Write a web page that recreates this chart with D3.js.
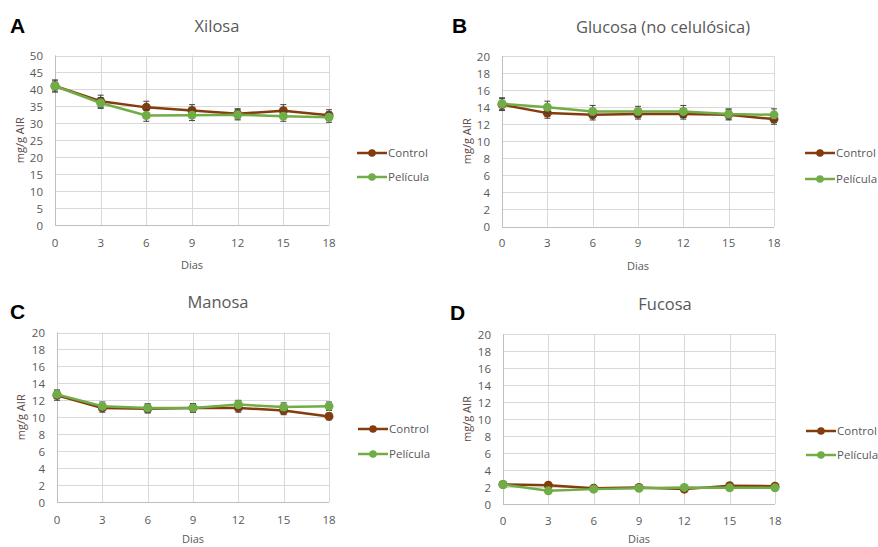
<!DOCTYPE html>
<html><head><meta charset="utf-8">
<script src="https://cdn.jsdelivr.net/npm/d3@7"></script>
<style>body{margin:0;background:#fff}svg{display:block}</style>
</head><body>
<svg id="c" width="878" height="547"></svg>
<script>
const days = [0, 3, 6, 9, 12, 15, 18];
const seriesNames = ["Control", "Película"];
const panelLetters = ["A", "B", "C", "D"];
const panelTitles = ["Xilosa", "Glucosa (no celulósica)", "Manosa", "Fucosa"];
const yMaxes = [50, 20, 20, 20];
const yStepValues = [5, 2, 2, 2];

const xilosaControl = [41.0, 36.5, 34.7, 33.8, 32.8, 33.7, 32.4];
const xilosaPelicula = [41.0, 36.0, 32.3, 32.4, 32.5, 32.1, 31.8];
const xilosaControlErr = [1.8, 1.8, 1.8, 1.7, 1.5, 1.8, 1.6];
const xilosaPeliculaErr = [1.5, 1.6, 1.7, 1.6, 1.5, 1.5, 1.5];

const glucosaControl = [14.3, 13.3, 13.1, 13.2, 13.2, 13.1, 12.6];
const glucosaPelicula = [14.4, 14.0, 13.5, 13.5, 13.5, 13.2, 13.1];
const glucosaControlErr = [0.7, 0.6, 0.6, 0.6, 0.6, 0.6, 0.6];
const glucosaPeliculaErr = [0.7, 0.7, 0.7, 0.6, 0.7, 0.6, 0.7];

const manosaControl = [12.6, 11.1, 11.0, 11.1, 11.1, 10.8, 10.1];
const manosaPelicula = [12.7, 11.3, 11.1, 11.1, 11.5, 11.2, 11.3];
const manosaControlErr = [0.6, 0.5, 0.5, 0.5, 0.5, 0.5, 0.4];
const manosaPeliculaErr = [0.5, 0.5, 0.5, 0.5, 0.5, 0.5, 0.5];

const fucosaControl = [2.3, 2.2, 1.85, 1.95, 1.75, 2.15, 2.1];
const fucosaPelicula = [2.3, 1.55, 1.75, 1.85, 1.95, 1.9, 1.9];
const fucosaControlErr = [0.05, 0.05, 0.05, 0.05, 0.05, 0.05, 0.05];
const fucosaPeliculaErr = [0.05, 0.05, 0.05, 0.05, 0.05, 0.05, 0.05];

const panelValues = [
  [xilosaControl, xilosaPelicula],
  [glucosaControl, glucosaPelicula],
  [manosaControl, manosaPelicula],
  [fucosaControl, fucosaPelicula]
];
const panelErrors = [
  [xilosaControlErr, xilosaPeliculaErr],
  [glucosaControlErr, glucosaPeliculaErr],
  [manosaControlErr, manosaPeliculaErr],
  [fucosaControlErr, fucosaPeliculaErr]
];

const colors = ["#843C0C", "#70AD47"];
const textCol = "#595959";
const gridCol = "#D9D9D9";
const FONT = "'Open Sans', 'Noto Sans', sans-serif";

const layouts = [
  {x0: 55, x1: 329, y0: 55.5, y1: 225, tx: 217, ty: 32, lx: 10, ly: 33, tickY: 247, diasY: 269, labX: 20, legX: 357, legY: [153, 177]},
  {x0: 502, x1: 774, y0: 56, y1: 226.5, tx: 663, ty: 33, lx: 452, ly: 33, tickY: 247, diasY: 270, labX: 467, legX: 805, legY: [153, 179]},
  {x0: 57, x1: 329, y0: 332.5, y1: 502, tx: 218, ty: 308, lx: 10, ly: 319, tickY: 524, diasY: 543, labX: 21, legX: 358, legY: [429, 454]},
  {x0: 503, x1: 775, y0: 334, y1: 504, tx: 665, ty: 310, lx: 450, ly: 320, tickY: 525, diasY: 543, labX: 467, legX: 806, legY: [431, 455]}
];

const svg = d3.select("#c");

layouts.forEach((L, p) => {
  const g = svg.append("g");
  const x = d3.scaleLinear().domain([0, 18]).range([L.x0, L.x1]);
  const y = d3.scaleLinear().domain([0, yMaxes[p]]).range([L.y1, L.y0]);
  const yTicks = d3.range(0, yMaxes[p] + 0.001, yStepValues[p]);

  g.append("g").selectAll("line").data(yTicks).join("line")
    .attr("x1", L.x0).attr("x2", L.x1)
    .attr("y1", d => Math.round(y(d)) + 0.5).attr("y2", d => Math.round(y(d)) + 0.5)
    .attr("stroke", gridCol).attr("stroke-width", 1);
  g.append("g").selectAll("line").data(days).join("line")
    .attr("x1", d => Math.round(x(d)) + 0.5).attr("x2", d => Math.round(x(d)) + 0.5)
    .attr("y1", L.y0).attr("y2", L.y1)
    .attr("stroke", gridCol).attr("stroke-width", 1);

  g.append("line").attr("x1", Math.round(L.x0) + 0.5).attr("x2", Math.round(L.x0) + 0.5)
    .attr("y1", L.y0).attr("y2", L.y1).attr("stroke", "#BFBFBF");
  g.append("line").attr("x1", L.x0).attr("x2", L.x1)
    .attr("y1", Math.round(L.y1) + 0.5).attr("y2", Math.round(L.y1) + 0.5).attr("stroke", "#BFBFBF");

  g.append("g").selectAll("text").data(yTicks).join("text")
    .attr("x", L.x0 - 12).attr("y", d => y(d) + 4.5)
    .attr("text-anchor", "end").attr("font-family", FONT).attr("font-size", 11.5)
    .attr("fill", textCol).text(d => d);
  g.append("g").selectAll("text").data(days).join("text")
    .attr("x", d => x(d)).attr("y", L.tickY)
    .attr("text-anchor", "middle").attr("font-family", FONT).attr("font-size", 11.5)
    .attr("fill", textCol).text(d => d);

  g.append("text").attr("x", (L.x0 + L.x1) / 2).attr("y", L.diasY)
    .attr("text-anchor", "middle").attr("font-family", FONT).attr("font-size", 11)
    .attr("fill", textCol).text("Dias");
  g.append("text")
    .attr("transform", `translate(${L.labX + 4},${(L.y0 + L.y1) / 2}) rotate(-90)`)
    .attr("text-anchor", "middle").attr("font-family", FONT).attr("font-size", 11)
    .attr("fill", "#5E4C47").text("mg/g AIR");

  g.append("text").attr("x", L.tx).attr("y", L.ty).attr("text-anchor", "middle")
    .attr("font-family", FONT).attr("font-size", 16.5).attr("fill", textCol).text(panelTitles[p]);
  g.append("text").attr("x", L.lx).attr("y", L.ly)
    .attr("font-family", "'Liberation Sans', Arial, sans-serif").attr("font-weight", "bold")
    .attr("font-size", 21).attr("fill", "#000").text(panelLetters[p]);

  const line = d3.line().x((d, i) => x(days[i])).y(d => y(d));
  panelValues[p].forEach((vals, s) => {
    const sg = g.append("g");
    sg.append("path").datum(vals).attr("d", line).attr("fill", "none")
      .attr("stroke", colors[s]).attr("stroke-width", 2.5).attr("stroke-linejoin", "round");
    const errs = panelErrors[p][s];
    const eb = sg.append("g").selectAll("g").data(vals).join("g");
    eb.append("line").attr("x1", (d, i) => x(days[i])).attr("x2", (d, i) => x(days[i]))
      .attr("y1", (d, i) => y(d + errs[i])).attr("y2", (d, i) => y(d - errs[i]))
      .attr("stroke", "#404040").attr("stroke-width", 1);
    [1, -1].forEach(sign => {
      eb.append("line").attr("x1", (d, i) => x(days[i]) - 3).attr("x2", (d, i) => x(days[i]) + 3)
        .attr("y1", (d, i) => y(d + sign * errs[i])).attr("y2", (d, i) => y(d + sign * errs[i]))
        .attr("stroke", "#404040").attr("stroke-width", 1);
    });
    sg.append("g").selectAll("circle").data(vals).join("circle")
      .attr("cx", (d, i) => x(days[i])).attr("cy", d => y(d)).attr("r", 4.5)
      .attr("fill", colors[s]);
  });

  seriesNames.forEach((name, s) => {
    const ly = L.legY[s];
    g.append("line").attr("x1", L.legX).attr("x2", L.legX + 30).attr("y1", ly).attr("y2", ly)
      .attr("stroke", colors[s]).attr("stroke-width", 2.5);
    g.append("circle").attr("cx", L.legX + 15).attr("cy", ly).attr("r", 3.8).attr("fill", colors[s]);
    g.append("text").attr("x", L.legX + 31).attr("y", ly + 4)
      .attr("font-family", FONT).attr("font-size", 11.5).attr("fill", textCol).text(name);
  });
});
</script>
</body></html>
